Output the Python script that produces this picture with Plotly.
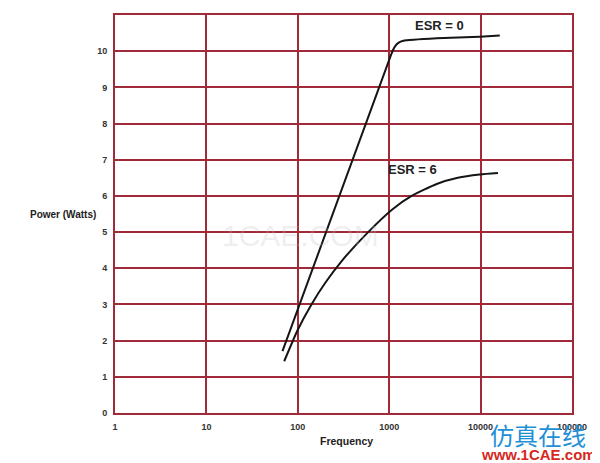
import plotly.graph_objects as go

# Data
esr0_freq = [68, 1047, 1148, 1259, 1429, 3311, 9772, 16218]
esr0_power = [1.71, 9.9, 10.12, 10.23, 10.29, 10.36, 10.40, 10.43]

esr6_freq = [71, 100, 141, 200, 302, 589, 1072, 1758, 3311, 5623, 9772, 15488]
esr6_power = [1.43, 2.3, 3.0, 3.6, 4.2, 5.0, 5.62, 6.0, 6.33, 6.5, 6.59, 6.63]

x_ticks = [1, 10, 100, 1000, 10000, 100000]
x_tick_labels = ["1", "10", "100", "1000", "10000", "100000"]
y_ticks = list(range(0, 11))

GRID = "#a12a3a"
FONT = "Liberation Sans, Arial, sans-serif"

fig = go.Figure()
fig.add_trace(go.Scatter(x=esr0_freq, y=esr0_power, mode="lines",
                         line=dict(color="#151515", width=2, shape="spline", smoothing=0.4),
                         showlegend=False))
fig.add_trace(go.Scatter(x=esr6_freq, y=esr6_power, mode="lines",
                         line=dict(color="#151515", width=2, shape="spline", smoothing=0.6),
                         showlegend=False))

fig.update_layout(
    width=600, height=463,
    margin=dict(l=107, r=36, t=5, b=58),
    paper_bgcolor="white", plot_bgcolor="white",
    font=dict(family=FONT, color="#222"),
    xaxis=dict(type="log", range=[0, 5], tickvals=x_ticks, ticktext=x_tick_labels,
               showgrid=True, gridcolor=GRID, gridwidth=2,
               showline=True, linecolor=GRID, linewidth=2, mirror=True,
               zeroline=False, ticks="", ticklabelstandoff=4,
               tickfont=dict(size=9, family=FONT, weight="bold", color="#333")),
    yaxis=dict(range=[0, 11], tickvals=y_ticks,
               showgrid=True, gridcolor=GRID, gridwidth=2,
               showline=True, linecolor=GRID, linewidth=2, mirror=True,
               zeroline=False, ticks="", ticklabelstandoff=4,
               tickfont=dict(size=9, family=FONT, weight="bold", color="#333")),
)

# positions below are screen pixels (x, y from top-left of the window)
annotations = [
    dict(text="<b>ESR = 0</b>", x=3.545, y=10.72, xref="x", yref="y", showarrow=False,
         font=dict(size=13, family=FONT, color="#222")),
    dict(text="<b>ESR = 6</b>", x=3.26, y=6.73, xref="x", yref="y", showarrow=False,
         font=dict(size=13, family=FONT, color="#222")),
    dict(text="<b>Frequency</b>", x=346, y=441, xref="paper", yref="paper",
         showarrow=False, font=dict(size=10.5, family=FONT, color="#222")),
    dict(text="<b>Power (Watts)</b>", x=63, y=213, xref="paper", yref="paper",
         showarrow=False, font=dict(size=10, family=FONT, color="#222")),
    dict(text="1CAE.COM", x=300, y=235, xref="paper", yref="paper",
         showarrow=False, font=dict(size=30, family=FONT, color="rgba(190,190,190,0.25)")),
    dict(text="仿真在线", x=538, y=435, xref="paper", yref="paper",
         showarrow=False, font=dict(size=24, family="Noto Sans CJK SC", color="#1f8fd6")),
    dict(text="<b>www.1CAE.com</b>", x=538, y=455, xref="paper", yref="paper",
         showarrow=False, font=dict(size=15, family=FONT, color="#d6281c")),
]
for a in annotations:
    a["xanchor"] = "center"
    a["yanchor"] = "middle"
    if a["xref"] == "paper":
        a["x"] = (a["x"] - 115) / 457
        a["y"] = (413 - a["y"]) / 400
fig.update_layout(annotations=annotations)

fig.write_html("out.html")
